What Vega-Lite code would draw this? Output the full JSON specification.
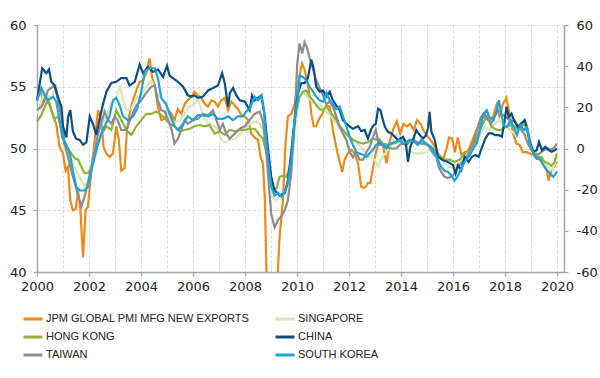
{
  "$schema": "https://vega.github.io/schema/vega-lite/v6.json",
  "width": 527,
  "height": 247,
  "autosize": {"type": "none"},
  "padding": {"left": 37, "top": 25, "right": 36, "bottom": 106},
  "config": {
    "view": {"stroke": null},
    "font": "DejaVu Sans",
    "axis": {
      "labelFont": "DejaVu Sans",
      "labelFontSize": 13,
      "labelColor": "#222222",
      "domainColor": "#a6a6a6",
      "domainWidth": 1.5,
      "tickColor": "#a6a6a6",
      "tickWidth": 1.2,
      "tickSize": 4,
      "gridColor": "#dcdcdc",
      "gridDash": [3, 2],
      "gridWidth": 1,
      "title": null
    },
    "legend": {
      "orient": "none",
      "legendX": -15,
      "legendY": 283,
      "columns": 2,
      "columnPadding": 19,
      "rowPadding": 1,
      "symbolType": "stroke",
      "symbolSize": 361,
      "symbolStrokeWidth": 3,
      "labelFont": "Liberation Sans",
      "labelFontSize": 11,
      "labelColor": "#222222",
      "labelOffset": 2,
      "labelLimit": 400,
      "title": null
    }
  },
  "datasets": {
    "jpm": [
      {"x":2000.0,"v":53.9},{"x":2000.13,"v":54.7},{"x":2000.23,"v":53.8},{"x":2000.36,"v":54.3},{"x":2000.49,"v":53.6},{"x":2000.62,"v":52.6},{"x":2000.74,"v":52.0},{"x":2000.87,"v":50.1},{"x":2001.0,"v":49.6},{"x":2001.1,"v":48.2},{"x":2001.19,"v":48.5},{"x":2001.28,"v":45.8},{"x":2001.38,"v":45.0},{"x":2001.49,"v":45.1},{"x":2001.58,"v":46.6},{"x":2001.67,"v":45.0},{"x":2001.77,"v":41.2},{"x":2001.87,"v":45.0},{"x":2001.96,"v":45.3},{"x":2002.09,"v":48.2},{"x":2002.22,"v":50.7},{"x":2002.35,"v":53.1},{"x":2002.47,"v":52.3},{"x":2002.56,"v":50.1},{"x":2002.67,"v":49.6},{"x":2002.79,"v":49.3},{"x":2002.92,"v":49.6},{"x":2003.05,"v":51.8},{"x":2003.15,"v":50.7},{"x":2003.24,"v":48.2},{"x":2003.37,"v":48.4},{"x":2003.46,"v":51.5},{"x":2003.56,"v":52.8},{"x":2003.69,"v":53.9},{"x":2003.82,"v":54.7},{"x":2003.95,"v":55.4},{"x":2004.08,"v":55.5},{"x":2004.2,"v":56.1},{"x":2004.33,"v":57.3},{"x":2004.42,"v":55.8},{"x":2004.53,"v":55.1},{"x":2004.65,"v":53.4},{"x":2004.78,"v":52.3},{"x":2004.91,"v":52.4},{"x":2005.04,"v":53.1},{"x":2005.17,"v":52.8},{"x":2005.29,"v":52.3},{"x":2005.42,"v":53.2},{"x":2005.55,"v":52.8},{"x":2005.68,"v":53.6},{"x":2005.8,"v":53.9},{"x":2005.94,"v":54.2},{"x":2006.06,"v":54.6},{"x":2006.19,"v":54.3},{"x":2006.32,"v":54.1},{"x":2006.45,"v":53.6},{"x":2006.58,"v":53.4},{"x":2006.71,"v":53.9},{"x":2006.83,"v":53.8},{"x":2006.96,"v":53.4},{"x":2007.09,"v":53.9},{"x":2007.22,"v":54.1},{"x":2007.35,"v":53.1},{"x":2007.47,"v":53.8},{"x":2007.6,"v":53.5},{"x":2007.73,"v":53.2},{"x":2007.86,"v":52.7},{"x":2007.99,"v":52.6},{"x":2008.12,"v":52.3},{"x":2008.24,"v":51.2},{"x":2008.37,"v":50.9},{"x":2008.5,"v":50.7},{"x":2008.6,"v":49.3},{"x":2008.69,"v":48.8},{"x":2008.76,"v":46.1},{"x":2008.84,"v":39.0},{"x":2008.92,"v":35.0},{"x":2009.0,"v":33.5},{"x":2009.08,"v":33.8},{"x":2009.17,"v":36.0},{"x":2009.25,"v":39.5},{"x":2009.33,"v":42.8},{"x":2009.4,"v":44.5},{"x":2009.46,"v":45.8},{"x":2009.55,"v":50.1},{"x":2009.65,"v":52.6},{"x":2009.78,"v":52.8},{"x":2009.91,"v":53.6},{"x":2010.04,"v":55.0},{"x":2010.14,"v":56.4},{"x":2010.2,"v":56.9},{"x":2010.29,"v":56.4},{"x":2010.38,"v":55.5},{"x":2010.46,"v":54.7},{"x":2010.55,"v":52.8},{"x":2010.64,"v":51.8},{"x":2010.74,"v":51.8},{"x":2010.85,"v":52.4},{"x":2010.97,"v":52.8},{"x":2011.13,"v":53.5},{"x":2011.26,"v":53.4},{"x":2011.38,"v":51.5},{"x":2011.51,"v":50.1},{"x":2011.62,"v":49.1},{"x":2011.74,"v":48.1},{"x":2011.83,"v":49.1},{"x":2011.96,"v":49.6},{"x":2012.09,"v":49.9},{"x":2012.22,"v":49.6},{"x":2012.35,"v":48.8},{"x":2012.47,"v":46.9},{"x":2012.6,"v":46.8},{"x":2012.73,"v":47.2},{"x":2012.82,"v":47.2},{"x":2012.93,"v":48.5},{"x":2013.06,"v":49.9},{"x":2013.19,"v":50.7},{"x":2013.32,"v":50.1},{"x":2013.45,"v":48.8},{"x":2013.58,"v":50.7},{"x":2013.71,"v":51.6},{"x":2013.84,"v":52.2},{"x":2013.97,"v":51.2},{"x":2014.1,"v":52.0},{"x":2014.23,"v":51.8},{"x":2014.36,"v":52.0},{"x":2014.49,"v":51.5},{"x":2014.62,"v":52.3},{"x":2014.75,"v":52.0},{"x":2014.88,"v":51.4},{"x":2014.97,"v":51.1},{"x":2015.1,"v":50.8},{"x":2015.23,"v":50.4},{"x":2015.36,"v":49.9},{"x":2015.49,"v":49.3},{"x":2015.62,"v":49.1},{"x":2015.75,"v":50.0},{"x":2015.85,"v":50.9},{"x":2015.97,"v":50.8},{"x":2016.07,"v":49.7},{"x":2016.19,"v":50.9},{"x":2016.32,"v":49.5},{"x":2016.45,"v":49.7},{"x":2016.58,"v":49.8},{"x":2016.77,"v":50.8},{"x":2016.9,"v":51.5},{"x":2017.03,"v":51.8},{"x":2017.15,"v":52.6},{"x":2017.28,"v":52.4},{"x":2017.41,"v":52.3},{"x":2017.54,"v":52.6},{"x":2017.67,"v":53.5},{"x":2017.79,"v":52.6},{"x":2017.92,"v":53.6},{"x":2018.05,"v":54.1},{"x":2018.12,"v":53.4},{"x":2018.22,"v":52.3},{"x":2018.31,"v":51.2},{"x":2018.44,"v":50.4},{"x":2018.56,"v":50.3},{"x":2018.69,"v":49.7},{"x":2018.82,"v":49.7},{"x":2018.95,"v":49.6},{"x":2019.08,"v":49.5},{"x":2019.21,"v":49.2},{"x":2019.33,"v":49.1},{"x":2019.46,"v":48.8},{"x":2019.59,"v":48.4},{"x":2019.68,"v":47.4},{"x":2019.78,"v":48.2},{"x":2019.88,"v":48.5},{"x":2019.99,"v":48.9}
    ],
    "asia": [
      {"s":"SINGAPORE","x":2000.0,"v":16.8},{"s":"SINGAPORE","x":2000.17,"v":23.4},{"s":"SINGAPORE","x":2000.3,"v":27},{"s":"SINGAPORE","x":2000.42,"v":25.2},{"s":"SINGAPORE","x":2000.55,"v":25.2},{"s":"SINGAPORE","x":2000.74,"v":30},{"s":"SINGAPORE","x":2000.87,"v":16.8},{"s":"SINGAPORE","x":2001.0,"v":9},{"s":"SINGAPORE","x":2001.13,"v":0.6},{"s":"SINGAPORE","x":2001.32,"v":-5.4},{"s":"SINGAPORE","x":2001.51,"v":-10.8},{"s":"SINGAPORE","x":2001.71,"v":-15.6},{"s":"SINGAPORE","x":2001.83,"v":-18.6},{"s":"SINGAPORE","x":2002.03,"v":-13.8},{"s":"SINGAPORE","x":2002.22,"v":-0.6},{"s":"SINGAPORE","x":2002.35,"v":7.2},{"s":"SINGAPORE","x":2002.47,"v":12},{"s":"SINGAPORE","x":2002.67,"v":15.6},{"s":"SINGAPORE","x":2002.86,"v":21.6},{"s":"SINGAPORE","x":2003.05,"v":24.6},{"s":"SINGAPORE","x":2003.18,"v":30.6},{"s":"SINGAPORE","x":2003.31,"v":23.4},{"s":"SINGAPORE","x":2003.44,"v":18.6},{"s":"SINGAPORE","x":2003.63,"v":19.2},{"s":"SINGAPORE","x":2003.82,"v":24.6},{"s":"SINGAPORE","x":2004.01,"v":25.8},{"s":"SINGAPORE","x":2004.2,"v":30},{"s":"SINGAPORE","x":2004.4,"v":33},{"s":"SINGAPORE","x":2004.59,"v":27},{"s":"SINGAPORE","x":2004.78,"v":24.6},{"s":"SINGAPORE","x":2004.97,"v":20.4},{"s":"SINGAPORE","x":2005.1,"v":13.8},{"s":"SINGAPORE","x":2005.29,"v":12},{"s":"SINGAPORE","x":2005.49,"v":13.8},{"s":"SINGAPORE","x":2005.68,"v":16.8},{"s":"SINGAPORE","x":2005.87,"v":20.4},{"s":"SINGAPORE","x":2006.06,"v":21.6},{"s":"SINGAPORE","x":2006.19,"v":24.6},{"s":"SINGAPORE","x":2006.32,"v":18.6},{"s":"SINGAPORE","x":2006.45,"v":13.8},{"s":"SINGAPORE","x":2006.64,"v":12},{"s":"SINGAPORE","x":2006.83,"v":10.8},{"s":"SINGAPORE","x":2006.96,"v":9},{"s":"SINGAPORE","x":2007.09,"v":4.2},{"s":"SINGAPORE","x":2007.22,"v":3},{"s":"SINGAPORE","x":2007.41,"v":4.2},{"s":"SINGAPORE","x":2007.6,"v":4.8},{"s":"SINGAPORE","x":2007.8,"v":6.6},{"s":"SINGAPORE","x":2007.99,"v":9.6},{"s":"SINGAPORE","x":2008.18,"v":12},{"s":"SINGAPORE","x":2008.37,"v":13.2},{"s":"SINGAPORE","x":2008.56,"v":12},{"s":"SINGAPORE","x":2008.69,"v":9},{"s":"SINGAPORE","x":2008.82,"v":-2.4},{"s":"SINGAPORE","x":2008.95,"v":-15.6},{"s":"SINGAPORE","x":2009.08,"v":-23.4},{"s":"SINGAPORE","x":2009.21,"v":-25.2},{"s":"SINGAPORE","x":2009.33,"v":-23.4},{"s":"SINGAPORE","x":2009.46,"v":-21.6},{"s":"SINGAPORE","x":2009.59,"v":-20.4},{"s":"SINGAPORE","x":2009.72,"v":-13.8},{"s":"SINGAPORE","x":2009.85,"v":0.6},{"s":"SINGAPORE","x":2009.97,"v":15.6},{"s":"SINGAPORE","x":2010.1,"v":24.6},{"s":"SINGAPORE","x":2010.23,"v":27},{"s":"SINGAPORE","x":2010.36,"v":25.8},{"s":"SINGAPORE","x":2010.55,"v":23.4},{"s":"SINGAPORE","x":2010.74,"v":21.6},{"s":"SINGAPORE","x":2010.94,"v":20.4},{"s":"SINGAPORE","x":2011.13,"v":18},{"s":"SINGAPORE","x":2011.32,"v":15.6},{"s":"SINGAPORE","x":2011.51,"v":12},{"s":"SINGAPORE","x":2011.71,"v":9},{"s":"SINGAPORE","x":2011.9,"v":6.6},{"s":"SINGAPORE","x":2012.09,"v":5.4},{"s":"SINGAPORE","x":2012.28,"v":3},{"s":"SINGAPORE","x":2012.47,"v":0.6},{"s":"SINGAPORE","x":2012.67,"v":-2.4},{"s":"SINGAPORE","x":2012.79,"v":-4.2},{"s":"SINGAPORE","x":2012.99,"v":-5.4},{"s":"SINGAPORE","x":2013.12,"v":-9},{"s":"SINGAPORE","x":2013.24,"v":-4.8},{"s":"SINGAPORE","x":2013.44,"v":-1.8},{"s":"SINGAPORE","x":2013.63,"v":1.8},{"s":"SINGAPORE","x":2013.82,"v":6.6},{"s":"SINGAPORE","x":2014.01,"v":5.4},{"s":"SINGAPORE","x":2014.21,"v":0.6},{"s":"SINGAPORE","x":2014.4,"v":-1.8},{"s":"SINGAPORE","x":2014.59,"v":-2.4},{"s":"SINGAPORE","x":2014.78,"v":-2.4},{"s":"SINGAPORE","x":2014.97,"v":-1.8},{"s":"SINGAPORE","x":2015.17,"v":-0.6},{"s":"SINGAPORE","x":2015.36,"v":-1.8},{"s":"SINGAPORE","x":2015.49,"v":-4.2},{"s":"SINGAPORE","x":2015.68,"v":-7.2},{"s":"SINGAPORE","x":2015.87,"v":-9},{"s":"SINGAPORE","x":2016.06,"v":-9},{"s":"SINGAPORE","x":2016.26,"v":-7.2},{"s":"SINGAPORE","x":2016.45,"v":-4.2},{"s":"SINGAPORE","x":2016.64,"v":-1.8},{"s":"SINGAPORE","x":2016.83,"v":2.4},{"s":"SINGAPORE","x":2017.03,"v":6.6},{"s":"SINGAPORE","x":2017.22,"v":10.8},{"s":"SINGAPORE","x":2017.41,"v":9},{"s":"SINGAPORE","x":2017.6,"v":12},{"s":"SINGAPORE","x":2017.79,"v":13.8},{"s":"SINGAPORE","x":2017.99,"v":10.8},{"s":"SINGAPORE","x":2018.18,"v":9},{"s":"SINGAPORE","x":2018.37,"v":7.2},{"s":"SINGAPORE","x":2018.56,"v":10.8},{"s":"SINGAPORE","x":2018.76,"v":13.8},{"s":"SINGAPORE","x":2018.88,"v":9},{"s":"SINGAPORE","x":2019.01,"v":2.4},{"s":"SINGAPORE","x":2019.14,"v":-0.6},{"s":"SINGAPORE","x":2019.33,"v":-4.2},{"s":"SINGAPORE","x":2019.53,"v":-7.2},{"s":"SINGAPORE","x":2019.72,"v":-10.8},{"s":"SINGAPORE","x":2019.85,"v":-9.6},{"s":"SINGAPORE","x":2019.99,"v":-4.2},

      {"s":"HONG KONG","x":2000.0,"v":13.2},{"s":"HONG KONG","x":2000.17,"v":16.2},{"s":"HONG KONG","x":2000.3,"v":20.4},{"s":"HONG KONG","x":2000.42,"v":23.4},{"s":"HONG KONG","x":2000.55,"v":18.6},{"s":"HONG KONG","x":2000.68,"v":14.4},{"s":"HONG KONG","x":2000.81,"v":15.6},{"s":"HONG KONG","x":2000.94,"v":9},{"s":"HONG KONG","x":2001.06,"v":1.8},{"s":"HONG KONG","x":2001.19,"v":0},{"s":"HONG KONG","x":2001.32,"v":-2.4},{"s":"HONG KONG","x":2001.45,"v":-4.8},{"s":"HONG KONG","x":2001.58,"v":-5.4},{"s":"HONG KONG","x":2001.71,"v":-9},{"s":"HONG KONG","x":2001.83,"v":-12},{"s":"HONG KONG","x":2001.96,"v":-12},{"s":"HONG KONG","x":2002.09,"v":-9.6},{"s":"HONG KONG","x":2002.22,"v":-2.4},{"s":"HONG KONG","x":2002.35,"v":2.4},{"s":"HONG KONG","x":2002.47,"v":6.6},{"s":"HONG KONG","x":2002.67,"v":10.8},{"s":"HONG KONG","x":2002.86,"v":9},{"s":"HONG KONG","x":2003.05,"v":18.6},{"s":"HONG KONG","x":2003.24,"v":13.8},{"s":"HONG KONG","x":2003.44,"v":9},{"s":"HONG KONG","x":2003.63,"v":6.6},{"s":"HONG KONG","x":2003.82,"v":10.8},{"s":"HONG KONG","x":2004.01,"v":13.8},{"s":"HONG KONG","x":2004.2,"v":16.8},{"s":"HONG KONG","x":2004.4,"v":16.8},{"s":"HONG KONG","x":2004.59,"v":18},{"s":"HONG KONG","x":2004.78,"v":16.2},{"s":"HONG KONG","x":2004.97,"v":13.8},{"s":"HONG KONG","x":2005.1,"v":12},{"s":"HONG KONG","x":2005.29,"v":10.8},{"s":"HONG KONG","x":2005.49,"v":8.4},{"s":"HONG KONG","x":2005.68,"v":9},{"s":"HONG KONG","x":2005.87,"v":9.6},{"s":"HONG KONG","x":2006.06,"v":10.8},{"s":"HONG KONG","x":2006.26,"v":11.4},{"s":"HONG KONG","x":2006.45,"v":10.8},{"s":"HONG KONG","x":2006.64,"v":11.4},{"s":"HONG KONG","x":2006.83,"v":7.2},{"s":"HONG KONG","x":2007.03,"v":8.4},{"s":"HONG KONG","x":2007.22,"v":6.6},{"s":"HONG KONG","x":2007.41,"v":9},{"s":"HONG KONG","x":2007.6,"v":8.4},{"s":"HONG KONG","x":2007.8,"v":9},{"s":"HONG KONG","x":2007.99,"v":9},{"s":"HONG KONG","x":2008.18,"v":9.6},{"s":"HONG KONG","x":2008.37,"v":9.6},{"s":"HONG KONG","x":2008.56,"v":6.6},{"s":"HONG KONG","x":2008.69,"v":4.8},{"s":"HONG KONG","x":2008.82,"v":-1.8},{"s":"HONG KONG","x":2008.95,"v":-10.8},{"s":"HONG KONG","x":2009.08,"v":-20.4},{"s":"HONG KONG","x":2009.21,"v":-19.2},{"s":"HONG KONG","x":2009.33,"v":-13.8},{"s":"HONG KONG","x":2009.46,"v":-13.2},{"s":"HONG KONG","x":2009.59,"v":-13.8},{"s":"HONG KONG","x":2009.72,"v":-9},{"s":"HONG KONG","x":2009.85,"v":7.2},{"s":"HONG KONG","x":2009.97,"v":18.6},{"s":"HONG KONG","x":2010.1,"v":25.2},{"s":"HONG KONG","x":2010.23,"v":27.6},{"s":"HONG KONG","x":2010.36,"v":28.2},{"s":"HONG KONG","x":2010.49,"v":25.2},{"s":"HONG KONG","x":2010.62,"v":23.4},{"s":"HONG KONG","x":2010.74,"v":21},{"s":"HONG KONG","x":2010.87,"v":19.2},{"s":"HONG KONG","x":2011.0,"v":18.6},{"s":"HONG KONG","x":2011.13,"v":20.4},{"s":"HONG KONG","x":2011.26,"v":18},{"s":"HONG KONG","x":2011.38,"v":16.2},{"s":"HONG KONG","x":2011.51,"v":13.8},{"s":"HONG KONG","x":2011.64,"v":10.8},{"s":"HONG KONG","x":2011.77,"v":9},{"s":"HONG KONG","x":2011.9,"v":7.2},{"s":"HONG KONG","x":2012.03,"v":5.4},{"s":"HONG KONG","x":2012.15,"v":4.2},{"s":"HONG KONG","x":2012.35,"v":3},{"s":"HONG KONG","x":2012.54,"v":2.4},{"s":"HONG KONG","x":2012.73,"v":3},{"s":"HONG KONG","x":2012.92,"v":4.8},{"s":"HONG KONG","x":2013.12,"v":4.2},{"s":"HONG KONG","x":2013.31,"v":2.4},{"s":"HONG KONG","x":2013.5,"v":1.8},{"s":"HONG KONG","x":2013.69,"v":2.4},{"s":"HONG KONG","x":2013.88,"v":3},{"s":"HONG KONG","x":2014.08,"v":4.2},{"s":"HONG KONG","x":2014.27,"v":3},{"s":"HONG KONG","x":2014.46,"v":4.2},{"s":"HONG KONG","x":2014.65,"v":3},{"s":"HONG KONG","x":2014.85,"v":2.4},{"s":"HONG KONG","x":2015.04,"v":1.8},{"s":"HONG KONG","x":2015.23,"v":0},{"s":"HONG KONG","x":2015.42,"v":-2.4},{"s":"HONG KONG","x":2015.55,"v":-4.2},{"s":"HONG KONG","x":2015.68,"v":-5.4},{"s":"HONG KONG","x":2015.87,"v":-5.4},{"s":"HONG KONG","x":2016.06,"v":-6.6},{"s":"HONG KONG","x":2016.26,"v":-5.4},{"s":"HONG KONG","x":2016.45,"v":-2.4},{"s":"HONG KONG","x":2016.64,"v":-0.6},{"s":"HONG KONG","x":2016.83,"v":2.4},{"s":"HONG KONG","x":2017.03,"v":9},{"s":"HONG KONG","x":2017.22,"v":13.8},{"s":"HONG KONG","x":2017.35,"v":15.6},{"s":"HONG KONG","x":2017.47,"v":10.8},{"s":"HONG KONG","x":2017.6,"v":9.6},{"s":"HONG KONG","x":2017.73,"v":9},{"s":"HONG KONG","x":2017.86,"v":9},{"s":"HONG KONG","x":2018.05,"v":10.8},{"s":"HONG KONG","x":2018.24,"v":11.4},{"s":"HONG KONG","x":2018.37,"v":10.8},{"s":"HONG KONG","x":2018.5,"v":9},{"s":"HONG KONG","x":2018.63,"v":10.8},{"s":"HONG KONG","x":2018.76,"v":12},{"s":"HONG KONG","x":2018.88,"v":7.2},{"s":"HONG KONG","x":2019.01,"v":0},{"s":"HONG KONG","x":2019.14,"v":-2.4},{"s":"HONG KONG","x":2019.27,"v":-4.2},{"s":"HONG KONG","x":2019.4,"v":-4.2},{"s":"HONG KONG","x":2019.53,"v":-6.6},{"s":"HONG KONG","x":2019.65,"v":-7.2},{"s":"HONG KONG","x":2019.78,"v":-8.4},{"s":"HONG KONG","x":2019.91,"v":-6.6},{"s":"HONG KONG","x":2019.99,"v":-2.4},

      {"s":"TAIWAN","x":2000.0,"v":18.6},{"s":"TAIWAN","x":2000.17,"v":20.4},{"s":"TAIWAN","x":2000.3,"v":23.4},{"s":"TAIWAN","x":2000.42,"v":28.2},{"s":"TAIWAN","x":2000.55,"v":29.4},{"s":"TAIWAN","x":2000.68,"v":30.6},{"s":"TAIWAN","x":2000.81,"v":23.4},{"s":"TAIWAN","x":2000.94,"v":15.6},{"s":"TAIWAN","x":2001.06,"v":2.4},{"s":"TAIWAN","x":2001.19,"v":-4.2},{"s":"TAIWAN","x":2001.32,"v":-10.8},{"s":"TAIWAN","x":2001.45,"v":-16.8},{"s":"TAIWAN","x":2001.58,"v":-22.8},{"s":"TAIWAN","x":2001.71,"v":-28.2},{"s":"TAIWAN","x":2001.83,"v":-23.4},{"s":"TAIWAN","x":2001.96,"v":-16.8},{"s":"TAIWAN","x":2002.09,"v":-9},{"s":"TAIWAN","x":2002.22,"v":-0.6},{"s":"TAIWAN","x":2002.35,"v":7.2},{"s":"TAIWAN","x":2002.47,"v":12},{"s":"TAIWAN","x":2002.6,"v":18},{"s":"TAIWAN","x":2002.73,"v":13.8},{"s":"TAIWAN","x":2002.86,"v":12},{"s":"TAIWAN","x":2002.99,"v":15.6},{"s":"TAIWAN","x":2003.12,"v":13.2},{"s":"TAIWAN","x":2003.24,"v":9},{"s":"TAIWAN","x":2003.44,"v":9},{"s":"TAIWAN","x":2003.63,"v":15.6},{"s":"TAIWAN","x":2003.82,"v":21},{"s":"TAIWAN","x":2004.01,"v":23.4},{"s":"TAIWAN","x":2004.2,"v":27},{"s":"TAIWAN","x":2004.4,"v":30},{"s":"TAIWAN","x":2004.53,"v":30.6},{"s":"TAIWAN","x":2004.65,"v":23.4},{"s":"TAIWAN","x":2004.78,"v":18.6},{"s":"TAIWAN","x":2004.91,"v":18},{"s":"TAIWAN","x":2005.04,"v":13.8},{"s":"TAIWAN","x":2005.17,"v":9.6},{"s":"TAIWAN","x":2005.29,"v":2.4},{"s":"TAIWAN","x":2005.42,"v":4.8},{"s":"TAIWAN","x":2005.55,"v":9},{"s":"TAIWAN","x":2005.68,"v":13.8},{"s":"TAIWAN","x":2005.8,"v":12},{"s":"TAIWAN","x":2006.0,"v":13.8},{"s":"TAIWAN","x":2006.19,"v":14.4},{"s":"TAIWAN","x":2006.38,"v":16.8},{"s":"TAIWAN","x":2006.58,"v":16.2},{"s":"TAIWAN","x":2006.77,"v":18.6},{"s":"TAIWAN","x":2006.9,"v":13.8},{"s":"TAIWAN","x":2007.03,"v":9},{"s":"TAIWAN","x":2007.15,"v":12},{"s":"TAIWAN","x":2007.28,"v":7.2},{"s":"TAIWAN","x":2007.41,"v":4.8},{"s":"TAIWAN","x":2007.6,"v":7.2},{"s":"TAIWAN","x":2007.8,"v":9.6},{"s":"TAIWAN","x":2007.99,"v":10.8},{"s":"TAIWAN","x":2008.18,"v":13.8},{"s":"TAIWAN","x":2008.37,"v":16.8},{"s":"TAIWAN","x":2008.56,"v":18},{"s":"TAIWAN","x":2008.69,"v":13.2},{"s":"TAIWAN","x":2008.82,"v":-0.6},{"s":"TAIWAN","x":2008.91,"v":-16.8},{"s":"TAIWAN","x":2009.01,"v":-31.8},{"s":"TAIWAN","x":2009.14,"v":-38.4},{"s":"TAIWAN","x":2009.27,"v":-34.8},{"s":"TAIWAN","x":2009.4,"v":-33},{"s":"TAIWAN","x":2009.53,"v":-30},{"s":"TAIWAN","x":2009.65,"v":-25.2},{"s":"TAIWAN","x":2009.78,"v":-12},{"s":"TAIWAN","x":2009.91,"v":13.8},{"s":"TAIWAN","x":2010.01,"v":41.4},{"s":"TAIWAN","x":2010.1,"v":51},{"s":"TAIWAN","x":2010.2,"v":46.2},{"s":"TAIWAN","x":2010.29,"v":51.6},{"s":"TAIWAN","x":2010.38,"v":49.2},{"s":"TAIWAN","x":2010.49,"v":43.8},{"s":"TAIWAN","x":2010.62,"v":38.4},{"s":"TAIWAN","x":2010.74,"v":33},{"s":"TAIWAN","x":2010.87,"v":29.4},{"s":"TAIWAN","x":2011.0,"v":25.8},{"s":"TAIWAN","x":2011.13,"v":21.6},{"s":"TAIWAN","x":2011.26,"v":22.8},{"s":"TAIWAN","x":2011.38,"v":20.4},{"s":"TAIWAN","x":2011.51,"v":15.6},{"s":"TAIWAN","x":2011.64,"v":10.8},{"s":"TAIWAN","x":2011.77,"v":7.2},{"s":"TAIWAN","x":2011.9,"v":4.2},{"s":"TAIWAN","x":2012.03,"v":-1.8},{"s":"TAIWAN","x":2012.15,"v":-4.2},{"s":"TAIWAN","x":2012.28,"v":-1.8},{"s":"TAIWAN","x":2012.41,"v":-5.4},{"s":"TAIWAN","x":2012.54,"v":-5.4},{"s":"TAIWAN","x":2012.67,"v":-1.8},{"s":"TAIWAN","x":2012.79,"v":0.6},{"s":"TAIWAN","x":2012.92,"v":5.4},{"s":"TAIWAN","x":2013.03,"v":9},{"s":"TAIWAN","x":2013.15,"v":1.8},{"s":"TAIWAN","x":2013.31,"v":1.8},{"s":"TAIWAN","x":2013.46,"v":0.6},{"s":"TAIWAN","x":2013.63,"v":0},{"s":"TAIWAN","x":2013.82,"v":0},{"s":"TAIWAN","x":2014.01,"v":2.4},{"s":"TAIWAN","x":2014.21,"v":1.8},{"s":"TAIWAN","x":2014.4,"v":4.2},{"s":"TAIWAN","x":2014.59,"v":3},{"s":"TAIWAN","x":2014.78,"v":2.4},{"s":"TAIWAN","x":2014.97,"v":2.4},{"s":"TAIWAN","x":2015.1,"v":0.6},{"s":"TAIWAN","x":2015.23,"v":-2.4},{"s":"TAIWAN","x":2015.36,"v":-4.2},{"s":"TAIWAN","x":2015.45,"v":-9},{"s":"TAIWAN","x":2015.55,"v":-11.4},{"s":"TAIWAN","x":2015.68,"v":-13.8},{"s":"TAIWAN","x":2015.81,"v":-14.4},{"s":"TAIWAN","x":2015.94,"v":-13.8},{"s":"TAIWAN","x":2016.06,"v":-12},{"s":"TAIWAN","x":2016.19,"v":-9},{"s":"TAIWAN","x":2016.32,"v":-7.2},{"s":"TAIWAN","x":2016.45,"v":-5.4},{"s":"TAIWAN","x":2016.58,"v":-3},{"s":"TAIWAN","x":2016.71,"v":0.6},{"s":"TAIWAN","x":2016.83,"v":4.8},{"s":"TAIWAN","x":2016.96,"v":10.8},{"s":"TAIWAN","x":2017.09,"v":15.6},{"s":"TAIWAN","x":2017.22,"v":16.8},{"s":"TAIWAN","x":2017.35,"v":13.8},{"s":"TAIWAN","x":2017.47,"v":12},{"s":"TAIWAN","x":2017.6,"v":15.6},{"s":"TAIWAN","x":2017.73,"v":18.6},{"s":"TAIWAN","x":2017.86,"v":16.8},{"s":"TAIWAN","x":2017.99,"v":15.6},{"s":"TAIWAN","x":2018.12,"v":14.4},{"s":"TAIWAN","x":2018.24,"v":13.2},{"s":"TAIWAN","x":2018.37,"v":13.8},{"s":"TAIWAN","x":2018.5,"v":10.8},{"s":"TAIWAN","x":2018.63,"v":9},{"s":"TAIWAN","x":2018.76,"v":6.6},{"s":"TAIWAN","x":2018.88,"v":2.4},{"s":"TAIWAN","x":2019.01,"v":-0.6},{"s":"TAIWAN","x":2019.14,"v":-2.4},{"s":"TAIWAN","x":2019.27,"v":-3},{"s":"TAIWAN","x":2019.4,"v":-1.8},{"s":"TAIWAN","x":2019.53,"v":-0.6},{"s":"TAIWAN","x":2019.65,"v":0},{"s":"TAIWAN","x":2019.78,"v":-0.6},{"s":"TAIWAN","x":2019.91,"v":0.6},{"s":"TAIWAN","x":2019.99,"v":2.4},

      {"s":"CHINA","x":2000.0,"v":23.4},{"s":"CHINA","x":2000.2,"v":39},{"s":"CHINA","x":2000.36,"v":36.6},{"s":"CHINA","x":2000.46,"v":38.4},{"s":"CHINA","x":2000.55,"v":32.4},{"s":"CHINA","x":2000.68,"v":30.6},{"s":"CHINA","x":2000.8,"v":25.2},{"s":"CHINA","x":2000.94,"v":20.4},{"s":"CHINA","x":2001.0,"v":10.8},{"s":"CHINA","x":2001.13,"v":5.4},{"s":"CHINA","x":2001.2,"v":15.6},{"s":"CHINA","x":2001.28,"v":18.6},{"s":"CHINA","x":2001.38,"v":8.4},{"s":"CHINA","x":2001.5,"v":4.8},{"s":"CHINA","x":2001.64,"v":4.2},{"s":"CHINA","x":2001.77,"v":1.8},{"s":"CHINA","x":2001.9,"v":3},{"s":"CHINA","x":2002.03,"v":15.6},{"s":"CHINA","x":2002.15,"v":12},{"s":"CHINA","x":2002.28,"v":6.6},{"s":"CHINA","x":2002.4,"v":13.8},{"s":"CHINA","x":2002.54,"v":21.6},{"s":"CHINA","x":2002.67,"v":27.6},{"s":"CHINA","x":2002.86,"v":31.8},{"s":"CHINA","x":2003.05,"v":32.4},{"s":"CHINA","x":2003.24,"v":34.2},{"s":"CHINA","x":2003.44,"v":34.2},{"s":"CHINA","x":2003.56,"v":30.6},{"s":"CHINA","x":2003.76,"v":32.4},{"s":"CHINA","x":2003.95,"v":40.8},{"s":"CHINA","x":2004.08,"v":36.6},{"s":"CHINA","x":2004.27,"v":39.6},{"s":"CHINA","x":2004.46,"v":37.2},{"s":"CHINA","x":2004.65,"v":38.4},{"s":"CHINA","x":2004.85,"v":34.8},{"s":"CHINA","x":2005.0,"v":40.2},{"s":"CHINA","x":2005.1,"v":35.4},{"s":"CHINA","x":2005.23,"v":34.2},{"s":"CHINA","x":2005.42,"v":32.4},{"s":"CHINA","x":2005.62,"v":30},{"s":"CHINA","x":2005.8,"v":25.8},{"s":"CHINA","x":2005.94,"v":25.2},{"s":"CHINA","x":2006.06,"v":25.8},{"s":"CHINA","x":2006.19,"v":24.6},{"s":"CHINA","x":2006.38,"v":25.2},{"s":"CHINA","x":2006.58,"v":28.2},{"s":"CHINA","x":2006.77,"v":29.4},{"s":"CHINA","x":2006.96,"v":30.6},{"s":"CHINA","x":2007.12,"v":36.6},{"s":"CHINA","x":2007.22,"v":31.8},{"s":"CHINA","x":2007.35,"v":20.4},{"s":"CHINA","x":2007.42,"v":27},{"s":"CHINA","x":2007.54,"v":29.4},{"s":"CHINA","x":2007.67,"v":25.8},{"s":"CHINA","x":2007.8,"v":23.4},{"s":"CHINA","x":2007.99,"v":22.8},{"s":"CHINA","x":2008.18,"v":18.6},{"s":"CHINA","x":2008.27,"v":25.8},{"s":"CHINA","x":2008.37,"v":23.4},{"s":"CHINA","x":2008.5,"v":24.6},{"s":"CHINA","x":2008.63,"v":25.8},{"s":"CHINA","x":2008.76,"v":15.6},{"s":"CHINA","x":2008.88,"v":0.6},{"s":"CHINA","x":2009.01,"v":-13.8},{"s":"CHINA","x":2009.14,"v":-20.4},{"s":"CHINA","x":2009.33,"v":-22.8},{"s":"CHINA","x":2009.53,"v":-21.6},{"s":"CHINA","x":2009.65,"v":-15.6},{"s":"CHINA","x":2009.78,"v":-2.4},{"s":"CHINA","x":2009.91,"v":13.8},{"s":"CHINA","x":2010.04,"v":27},{"s":"CHINA","x":2010.17,"v":31.8},{"s":"CHINA","x":2010.29,"v":31.8},{"s":"CHINA","x":2010.42,"v":34.2},{"s":"CHINA","x":2010.55,"v":43.2},{"s":"CHINA","x":2010.64,"v":39},{"s":"CHINA","x":2010.74,"v":30},{"s":"CHINA","x":2010.87,"v":27.6},{"s":"CHINA","x":2011.0,"v":28.2},{"s":"CHINA","x":2011.13,"v":25.2},{"s":"CHINA","x":2011.26,"v":27.6},{"s":"CHINA","x":2011.38,"v":23.4},{"s":"CHINA","x":2011.51,"v":21},{"s":"CHINA","x":2011.64,"v":18.6},{"s":"CHINA","x":2011.77,"v":13.8},{"s":"CHINA","x":2011.9,"v":12},{"s":"CHINA","x":2012.03,"v":10.8},{"s":"CHINA","x":2012.15,"v":9.6},{"s":"CHINA","x":2012.35,"v":10.8},{"s":"CHINA","x":2012.47,"v":8.4},{"s":"CHINA","x":2012.6,"v":9},{"s":"CHINA","x":2012.73,"v":4.8},{"s":"CHINA","x":2012.86,"v":9.6},{"s":"CHINA","x":2012.95,"v":11.3},{"s":"CHINA","x":2013.03,"v":12},{"s":"CHINA","x":2013.12,"v":19.4},{"s":"CHINA","x":2013.21,"v":18.6},{"s":"CHINA","x":2013.29,"v":14.6},{"s":"CHINA","x":2013.38,"v":10.5},{"s":"CHINA","x":2013.5,"v":8.1},{"s":"CHINA","x":2013.63,"v":7.3},{"s":"CHINA","x":2013.76,"v":5.7},{"s":"CHINA","x":2013.88,"v":4.1},{"s":"CHINA","x":2014.08,"v":5.7},{"s":"CHINA","x":2014.18,"v":3.2},{"s":"CHINA","x":2014.27,"v":-6.5},{"s":"CHINA","x":2014.36,"v":0.8},{"s":"CHINA","x":2014.46,"v":4.1},{"s":"CHINA","x":2014.59,"v":8.9},{"s":"CHINA","x":2014.72,"v":6.5},{"s":"CHINA","x":2014.85,"v":4.9},{"s":"CHINA","x":2014.97,"v":6.5},{"s":"CHINA","x":2015.04,"v":10},{"s":"CHINA","x":2015.1,"v":17.8},{"s":"CHINA","x":2015.17,"v":8},{"s":"CHINA","x":2015.3,"v":4.1},{"s":"CHINA","x":2015.42,"v":-4},{"s":"CHINA","x":2015.62,"v":-5.7},{"s":"CHINA","x":2015.81,"v":-6.5},{"s":"CHINA","x":2016.0,"v":-8.1},{"s":"CHINA","x":2016.1,"v":-12.2},{"s":"CHINA","x":2016.19,"v":-8.1},{"s":"CHINA","x":2016.32,"v":-10.5},{"s":"CHINA","x":2016.45,"v":-4},{"s":"CHINA","x":2016.6,"v":-6.5},{"s":"CHINA","x":2016.73,"v":-4},{"s":"CHINA","x":2016.86,"v":-3.2},{"s":"CHINA","x":2016.99,"v":-4},{"s":"CHINA","x":2017.12,"v":0.8},{"s":"CHINA","x":2017.25,"v":4.9},{"s":"CHINA","x":2017.37,"v":7.3},{"s":"CHINA","x":2017.5,"v":7.3},{"s":"CHINA","x":2017.63,"v":6.5},{"s":"CHINA","x":2017.76,"v":6.5},{"s":"CHINA","x":2017.88,"v":5.7},{"s":"CHINA","x":2017.99,"v":13.8},{"s":"CHINA","x":2018.06,"v":20.3},{"s":"CHINA","x":2018.14,"v":15.4},{"s":"CHINA","x":2018.25,"v":17},{"s":"CHINA","x":2018.37,"v":13},{"s":"CHINA","x":2018.5,"v":10.5},{"s":"CHINA","x":2018.63,"v":12.2},{"s":"CHINA","x":2018.76,"v":13.8},{"s":"CHINA","x":2018.87,"v":8.9},{"s":"CHINA","x":2018.96,"v":3.2},{"s":"CHINA","x":2019.09,"v":-1.6},{"s":"CHINA","x":2019.22,"v":-0.8},{"s":"CHINA","x":2019.31,"v":3.2},{"s":"CHINA","x":2019.42,"v":-0.8},{"s":"CHINA","x":2019.55,"v":0.8},{"s":"CHINA","x":2019.68,"v":-0.8},{"s":"CHINA","x":2019.8,"v":-1.6},{"s":"CHINA","x":2019.93,"v":-0.8},{"s":"CHINA","x":2020.0,"v":0},

      {"s":"SOUTH KOREA","x":2000.0,"v":23.4},{"s":"SOUTH KOREA","x":2000.17,"v":29.4},{"s":"SOUTH KOREA","x":2000.3,"v":25.8},{"s":"SOUTH KOREA","x":2000.42,"v":23.4},{"s":"SOUTH KOREA","x":2000.62,"v":25.2},{"s":"SOUTH KOREA","x":2000.74,"v":22.8},{"s":"SOUTH KOREA","x":2000.87,"v":13.8},{"s":"SOUTH KOREA","x":2000.97,"v":5.4},{"s":"SOUTH KOREA","x":2001.13,"v":1.8},{"s":"SOUTH KOREA","x":2001.26,"v":-2.4},{"s":"SOUTH KOREA","x":2001.38,"v":-10.8},{"s":"SOUTH KOREA","x":2001.51,"v":-18.6},{"s":"SOUTH KOREA","x":2001.64,"v":-20.4},{"s":"SOUTH KOREA","x":2001.83,"v":-20.4},{"s":"SOUTH KOREA","x":2001.96,"v":-18.6},{"s":"SOUTH KOREA","x":2002.09,"v":-10.8},{"s":"SOUTH KOREA","x":2002.22,"v":-4.2},{"s":"SOUTH KOREA","x":2002.35,"v":2.4},{"s":"SOUTH KOREA","x":2002.47,"v":7.2},{"s":"SOUTH KOREA","x":2002.6,"v":10.8},{"s":"SOUTH KOREA","x":2002.79,"v":15.6},{"s":"SOUTH KOREA","x":2002.92,"v":23.4},{"s":"SOUTH KOREA","x":2003.05,"v":24.6},{"s":"SOUTH KOREA","x":2003.18,"v":21},{"s":"SOUTH KOREA","x":2003.31,"v":15.6},{"s":"SOUTH KOREA","x":2003.5,"v":13.8},{"s":"SOUTH KOREA","x":2003.69,"v":15.6},{"s":"SOUTH KOREA","x":2003.85,"v":19.2},{"s":"SOUTH KOREA","x":2004.01,"v":27.6},{"s":"SOUTH KOREA","x":2004.14,"v":37.2},{"s":"SOUTH KOREA","x":2004.33,"v":39},{"s":"SOUTH KOREA","x":2004.53,"v":39},{"s":"SOUTH KOREA","x":2004.65,"v":34.2},{"s":"SOUTH KOREA","x":2004.78,"v":24.6},{"s":"SOUTH KOREA","x":2004.97,"v":21.6},{"s":"SOUTH KOREA","x":2005.1,"v":16.8},{"s":"SOUTH KOREA","x":2005.29,"v":10.8},{"s":"SOUTH KOREA","x":2005.42,"v":9},{"s":"SOUTH KOREA","x":2005.62,"v":12},{"s":"SOUTH KOREA","x":2005.8,"v":15.6},{"s":"SOUTH KOREA","x":2006.0,"v":13.8},{"s":"SOUTH KOREA","x":2006.19,"v":16.2},{"s":"SOUTH KOREA","x":2006.38,"v":16.2},{"s":"SOUTH KOREA","x":2006.58,"v":15.6},{"s":"SOUTH KOREA","x":2006.77,"v":16.8},{"s":"SOUTH KOREA","x":2006.96,"v":14.4},{"s":"SOUTH KOREA","x":2007.15,"v":14.4},{"s":"SOUTH KOREA","x":2007.35,"v":15.6},{"s":"SOUTH KOREA","x":2007.54,"v":13.8},{"s":"SOUTH KOREA","x":2007.73,"v":15.6},{"s":"SOUTH KOREA","x":2007.92,"v":15.6},{"s":"SOUTH KOREA","x":2008.05,"v":18},{"s":"SOUTH KOREA","x":2008.18,"v":19.2},{"s":"SOUTH KOREA","x":2008.37,"v":25.2},{"s":"SOUTH KOREA","x":2008.5,"v":23.4},{"s":"SOUTH KOREA","x":2008.63,"v":25.8},{"s":"SOUTH KOREA","x":2008.73,"v":18.6},{"s":"SOUTH KOREA","x":2008.82,"v":4.2},{"s":"SOUTH KOREA","x":2008.91,"v":-7.2},{"s":"SOUTH KOREA","x":2009.01,"v":-18.6},{"s":"SOUTH KOREA","x":2009.14,"v":-22.8},{"s":"SOUTH KOREA","x":2009.27,"v":-21.6},{"s":"SOUTH KOREA","x":2009.4,"v":-23.4},{"s":"SOUTH KOREA","x":2009.53,"v":-21},{"s":"SOUTH KOREA","x":2009.65,"v":-16.8},{"s":"SOUTH KOREA","x":2009.78,"v":-5.4},{"s":"SOUTH KOREA","x":2009.91,"v":13.8},{"s":"SOUTH KOREA","x":2010.04,"v":25.2},{"s":"SOUTH KOREA","x":2010.1,"v":35.4},{"s":"SOUTH KOREA","x":2010.23,"v":34.8},{"s":"SOUTH KOREA","x":2010.36,"v":33},{"s":"SOUTH KOREA","x":2010.49,"v":30},{"s":"SOUTH KOREA","x":2010.62,"v":27.6},{"s":"SOUTH KOREA","x":2010.74,"v":25.2},{"s":"SOUTH KOREA","x":2010.87,"v":23.4},{"s":"SOUTH KOREA","x":2011.0,"v":22.8},{"s":"SOUTH KOREA","x":2011.13,"v":27},{"s":"SOUTH KOREA","x":2011.26,"v":23.4},{"s":"SOUTH KOREA","x":2011.38,"v":21.6},{"s":"SOUTH KOREA","x":2011.51,"v":19.2},{"s":"SOUTH KOREA","x":2011.64,"v":20.4},{"s":"SOUTH KOREA","x":2011.77,"v":15.6},{"s":"SOUTH KOREA","x":2011.9,"v":10.8},{"s":"SOUTH KOREA","x":2012.03,"v":5.4},{"s":"SOUTH KOREA","x":2012.15,"v":1.8},{"s":"SOUTH KOREA","x":2012.28,"v":-1.8},{"s":"SOUTH KOREA","x":2012.41,"v":-2.4},{"s":"SOUTH KOREA","x":2012.54,"v":-3},{"s":"SOUTH KOREA","x":2012.67,"v":-4.2},{"s":"SOUTH KOREA","x":2012.79,"v":-2.4},{"s":"SOUTH KOREA","x":2012.92,"v":-0.6},{"s":"SOUTH KOREA","x":2013.05,"v":1.8},{"s":"SOUTH KOREA","x":2013.18,"v":3},{"s":"SOUTH KOREA","x":2013.31,"v":1.8},{"s":"SOUTH KOREA","x":2013.44,"v":0},{"s":"SOUTH KOREA","x":2013.56,"v":2.4},{"s":"SOUTH KOREA","x":2013.76,"v":3},{"s":"SOUTH KOREA","x":2013.95,"v":4.2},{"s":"SOUTH KOREA","x":2014.08,"v":2.4},{"s":"SOUTH KOREA","x":2014.21,"v":3},{"s":"SOUTH KOREA","x":2014.33,"v":4.2},{"s":"SOUTH KOREA","x":2014.53,"v":3},{"s":"SOUTH KOREA","x":2014.65,"v":1.8},{"s":"SOUTH KOREA","x":2014.78,"v":4.2},{"s":"SOUTH KOREA","x":2014.91,"v":3},{"s":"SOUTH KOREA","x":2015.04,"v":1.8},{"s":"SOUTH KOREA","x":2015.17,"v":0.6},{"s":"SOUTH KOREA","x":2015.29,"v":-1.8},{"s":"SOUTH KOREA","x":2015.42,"v":-5.4},{"s":"SOUTH KOREA","x":2015.55,"v":-9},{"s":"SOUTH KOREA","x":2015.68,"v":-10.8},{"s":"SOUTH KOREA","x":2015.81,"v":-11.4},{"s":"SOUTH KOREA","x":2015.94,"v":-13.2},{"s":"SOUTH KOREA","x":2016.06,"v":-15.6},{"s":"SOUTH KOREA","x":2016.17,"v":-13.8},{"s":"SOUTH KOREA","x":2016.32,"v":-9.6},{"s":"SOUTH KOREA","x":2016.45,"v":-6.5},{"s":"SOUTH KOREA","x":2016.65,"v":-3.2},{"s":"SOUTH KOREA","x":2016.78,"v":0},{"s":"SOUTH KOREA","x":2016.91,"v":2.4},{"s":"SOUTH KOREA","x":2017.04,"v":8.9},{"s":"SOUTH KOREA","x":2017.17,"v":17},{"s":"SOUTH KOREA","x":2017.3,"v":18.6},{"s":"SOUTH KOREA","x":2017.39,"v":15.4},{"s":"SOUTH KOREA","x":2017.56,"v":13.8},{"s":"SOUTH KOREA","x":2017.68,"v":18.6},{"s":"SOUTH KOREA","x":2017.76,"v":23.5},{"s":"SOUTH KOREA","x":2017.86,"v":17},{"s":"SOUTH KOREA","x":2017.95,"v":11.3},{"s":"SOUTH KOREA","x":2018.08,"v":10.5},{"s":"SOUTH KOREA","x":2018.21,"v":13.8},{"s":"SOUTH KOREA","x":2018.33,"v":10.5},{"s":"SOUTH KOREA","x":2018.46,"v":6.5},{"s":"SOUTH KOREA","x":2018.59,"v":11.3},{"s":"SOUTH KOREA","x":2018.72,"v":8.9},{"s":"SOUTH KOREA","x":2018.85,"v":10.5},{"s":"SOUTH KOREA","x":2018.96,"v":2.4},{"s":"SOUTH KOREA","x":2019.09,"v":-2.4},{"s":"SOUTH KOREA","x":2019.22,"v":-4.9},{"s":"SOUTH KOREA","x":2019.35,"v":-4.9},{"s":"SOUTH KOREA","x":2019.47,"v":-8.1},{"s":"SOUTH KOREA","x":2019.6,"v":-10.5},{"s":"SOUTH KOREA","x":2019.73,"v":-12.2},{"s":"SOUTH KOREA","x":2019.86,"v":-13.8},{"s":"SOUTH KOREA","x":2020.0,"v":-11.3}
    ]
  },
  "encoding": {
    "x": {
      "field": "x",
      "type": "quantitative",
      "scale": {"domain": [2000, 2020.27], "nice": false, "zero": false},
      "axis": {
        "orient": "bottom",
        "values": [2000,2001,2002,2003,2004,2005,2006,2007,2008,2009,2010,2011,2012,2013,2014,2015,2016,2017,2018,2019,2020],
        "format": "d",
        "labelExpr": "datum.value % 2 === 0 ? datum.label : ''",
        "labelFlush": false,
        "labelOverlap": false,
        "labelPadding": 4,
        "tickOpacity": {"condition": {"test": "datum.value % 2 === 0", "value": 1}, "value": 0},
        "grid": true
      }
    }
  },
  "layer": [
    {
      "data": {"name": "jpm"},
      "mark": {"type": "line", "clip": true, "strokeWidth": 2.2, "interpolate": "linear"},
      "encoding": {
        "y": {
          "field": "v",
          "type": "quantitative",
          "scale": {"domain": [40, 60], "nice": false, "zero": false},
          "axis": {"orient": "left", "values": [40, 45, 50, 55, 60], "grid": true, "labelPadding": 7}
        },
        "color": {
          "datum": "JPM GLOBAL PMI MFG NEW EXPORTS",
          "type": "nominal",
          "scale": {
            "domain": ["JPM GLOBAL PMI MFG NEW EXPORTS", "HONG KONG", "TAIWAN", "SINGAPORE", "CHINA", "SOUTH KOREA"],
            "range": ["#ee8a18", "#8db33a", "#8c8c8c", "#d8e7b6", "#0b4f82", "#1ba3e0"]
          }
        }
      }
    },
    {
      "layer": [
        {
          "data": {"name": "asia"},
          "mark": {"type": "line", "strokeWidth": 2.2},
          "encoding": {
            "y": {
              "field": "v",
              "type": "quantitative",
              "scale": {"domain": [-60, 60], "nice": false, "zero": false},
              "axis": {"orient": "right", "values": [-60, -40, -20, 0, 20, 40, 60], "grid": false, "labelPadding": 8, "labelExpr": "'' + datum.value"}
            },
            "color": {"field": "s", "type": "nominal"}
          }
        },
        {
          "data": {"values": [{}]},
          "mark": {"type": "rule", "color": "#1a1a1a", "strokeWidth": 1},
          "encoding": {"y": {"datum": 0, "type": "quantitative"}}
        }
      ]
    }
  ],
  "resolve": {"scale": {"y": "independent"}}
}
